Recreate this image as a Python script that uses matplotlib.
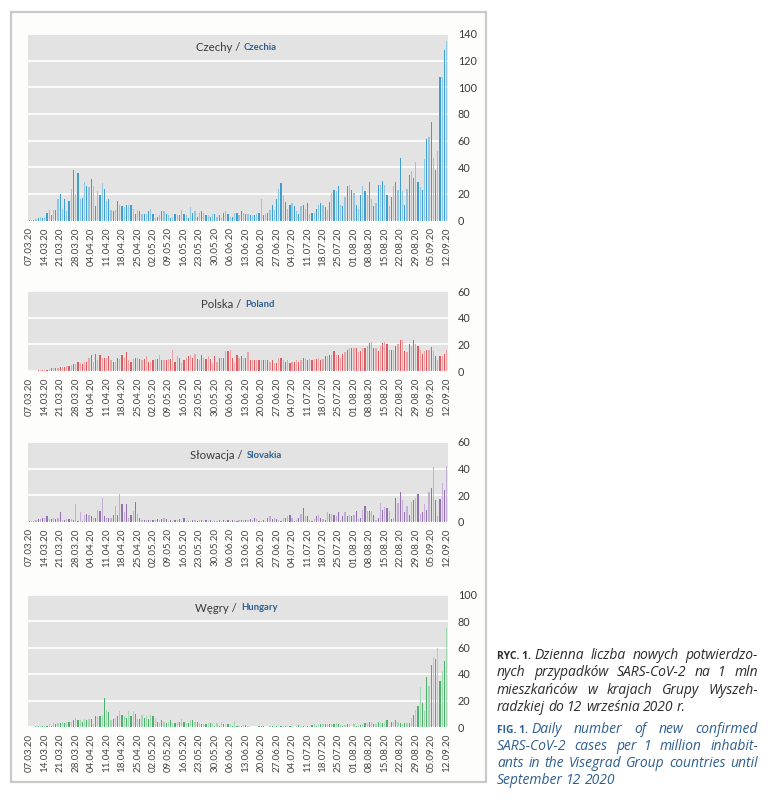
import matplotlib
matplotlib.use("Agg")
import matplotlib.pyplot as plt
from matplotlib.patches import Rectangle
import numpy as np
import pandas as pd

# daily new cases per 1 mln inhabitants, 07.03.20 - 12.09.20 (190 days)
czechia = [
    0.3, 0.5, 0.5, 1, 2, 3, 2,
    3, 6, 8, 4, 8, 8, 16,
    20, 9, 16, 7, 15, 24, 38,
    20, 36, 16, 17, 29, 26, 25,
    31, 26, 11, 22, 19, 28, 24,
    15, 16, 8, 7, 8, 15, 12,
    11, 10, 12, 12, 12, 9, 5,
    8, 7, 5, 5, 5, 7, 9,
    5, 2, 3, 4, 7, 7, 5,
    4, 2, 3, 5, 4, 4, 8,
    5, 4, 2, 10, 6, 7, 3,
    6, 7, 6, 4, 4, 3, 5,
    5, 3, 4, 2, 6, 7, 5,
    3, 3, 6, 6, 4, 7, 6,
    5, 5, 4, 4, 4, 5, 6,
    16, 4, 5, 6, 8, 12, 8,
    16, 24, 28, 19, 14, 9, 12,
    13, 11, 7, 5, 11, 12, 9,
    13, 5, 6, 6, 9, 12, 13,
    12, 10, 8, 14, 21, 23, 22,
    26, 12, 11, 18, 26, 27, 23,
    21, 12, 9, 19, 26, 22, 19,
    29, 16, 11, 13, 27, 27, 30,
    27, 19, 11, 18, 26, 29, 23,
    47, 22, 12, 24, 34, 37, 32,
    44, 29, 25, 23, 46, 61, 63,
    74, 47, 38, 52, 108, 108, 128,
    135,
]
poland = [
    0, 0, 0.2, 0.3, 0.5, 0.5, 0.7,
    1, 1, 1.5, 2, 2, 2, 2.5,
    3, 3, 3, 4, 4, 4.5, 5,
    5, 7, 6, 5, 7, 7, 10,
    12, 7, 13, 8, 12, 10, 10,
    10, 11, 8, 7, 7, 10, 9,
    12, 10, 14, 8, 7, 9, 10,
    10, 9, 8, 9, 11, 7, 7,
    8, 9, 9, 12, 8, 8, 8,
    9, 9, 16, 7, 11, 10, 6,
    8, 10, 11, 12, 10, 13, 9,
    8, 12, 10, 9, 11, 9, 6,
    11, 7, 10, 10, 10, 15, 15,
    16, 10, 6, 12, 10, 11, 10,
    10, 14, 8, 8, 8, 8, 8,
    8, 8, 8, 8, 7, 8, 6,
    6, 10, 10, 8, 7, 8, 6,
    7, 7, 8, 7, 8, 10, 9,
    8, 9, 8, 9, 9, 10, 8,
    9, 11, 11, 12, 12, 15, 12,
    12, 10, 13, 14, 16, 17, 17,
    17, 17, 14, 15, 17, 17, 19,
    21, 22, 17, 17, 15, 19, 21,
    22, 20, 16, 16, 16, 19, 20,
    23, 23, 15, 14, 20, 19, 23,
    20, 19, 16, 13, 15, 16, 16,
    18, 15, 11, 8, 11, 11, 13,
    16,
]
slovakia = [
    0.3, 0.5, 0.5, 1, 2, 2, 3,
    3, 4, 2, 2, 3, 2, 3,
    7, 1, 1, 2, 2, 2, 1,
    13, 0.5, 7, 0.5, 5, 6, 5,
    4, 3, 3, 9, 8, 18, 4,
    3, 3, 3, 5, 12, 5, 21,
    13, 7, 13, 3, 5, 8, 15,
    6, 3, 1, 1, 1, 1, 1.5,
    1, 1, 2, 1, 2, 3, 2,
    0.5, 1, 0.5, 1.5, 1, 2, 0.5,
    3, 0.5, 0.5, 0.5, 1, 1, 0.5,
    1, 1, 0.5, 1, 0.5, 1, 0.5,
    0.3, 0.5, 1, 0.5, 1, 0.5, 1,
    0.5, 1, 1, 0.5, 1, 1.5, 1,
    1, 1, 2, 1, 3, 2, 0.5,
    0.5, 1, 0.5, 3, 4, 2, 3,
    2, 1, 0.5, 3, 3, 4, 5,
    3, 0.5, 1, 3, 6, 10, 4,
    4, 1, 0.5, 2, 4, 5, 3,
    2, 1, 7, 6, 6, 5, 4,
    7, 1, 4, 7, 4, 5, 4,
    5, 8, 2, 3, 9, 12, 8,
    8, 8, 5, 1, 3, 14, 9,
    11, 10, 8, 2, 3, 18, 14,
    22, 16, 7, 12, 5, 15, 16,
    18, 21, 6, 7, 13, 9, 22,
    25, 41, 16, 4, 17, 29, 24,
    42,
]
hungary = [
    0.2, 0.2, 0.3, 0.5, 0.5, 1, 0.5,
    1, 1, 2, 1, 3, 2, 3,
    3, 4, 3, 4, 4, 4, 5,
    7, 5, 5, 4, 6, 5, 6,
    6, 2, 8, 8, 8, 9, 22,
    13, 11, 5, 6, 7, 8, 12,
    9, 8, 7, 12, 8, 12, 10,
    6, 6, 9, 7, 8, 6, 9,
    8, 6, 4, 3, 5, 4, 3,
    4, 5, 3, 3, 4, 4, 6,
    4, 3, 3, 5, 5, 4, 4,
    3, 2, 2, 2, 3, 3, 3,
    1, 3, 1, 4, 2, 1, 2,
    2, 0.5, 4.5, 0.5, 1, 1, 1.5,
    1.5, 1, 0.2, 0.2, 0.2, 0.3, 0.5,
    0.5, 0.5, 0.3, 0.2, 1, 0.5, 1,
    1, 0.5, 0.8, 1, 0.5, 0.5, 1,
    1, 0.3, 1, 1.5, 1, 0.5, 1,
    1, 0.5, 1.5, 2, 0.5, 1.5, 2,
    2, 2, 2, 2, 2, 2, 3,
    2, 1.5, 1, 1.5, 2, 2, 0.3,
    2, 1, 1, 1.5, 2, 3, 3,
    4, 4, 2, 2, 4, 4, 3,
    4, 5, 0.5, 4, 4, 5, 4,
    3, 2, 3, 3, 3, 7, 9,
    13, 16, 30, 18, 12, 38, 31,
    47, 53, 51, 60, 35, 42, 50,
    75,
]

dates = [d.strftime("%d.%m.%y") for d in pd.date_range("2020-03-07", "2020-09-12", freq="D")]

PANELS = [
    # data, polish name, english name, ymax, colours, top px, bottom px, split px
    (czechia, "Czechy /", "Czechia", 140, ("#3d9fd0", "#93c6e2"), 34, 220.5, 240),
    (poland, "Polska /", "Poland", 60, ("#dc5c62", "#eba3a6"), 291, 371, 241),
    (slovakia, "Słowacja /", "Slovakia", 60, ("#9272ae", "#c4add6"), 442, 521.5, 243),
    (hungary, "Węgry /", "Hungary", 100, ("#4caf6c", "#a2d8b1"), 594.5, 727, 237),
]

W, H = 782, 800
PLOT_L, PLOT_R = 28, 448
BG = "#e3e3e3"
INK = "#3a3a3a"
CAP_BLUE = "#2e5f8f"
plt.rcParams["font.family"] = ["Lato", "DejaVu Sans"]

fig = plt.figure(figsize=(W / 100, H / 100), dpi=100)
fig.patch.set_facecolor("white")
fig.patches.append(Rectangle((11 / W, 1 - 782 / H), 475 / W, 770 / H,
                             transform=fig.transFigure, facecolor="#fdfdfc",
                             edgecolor="#c9c9c9", lw=1.6, zorder=-10))

for data, pl_name, en_name, ymax, (dark, light), top, bot, split in PANELS:
    ax = fig.add_axes([PLOT_L / W, 1 - bot / H, (PLOT_R - PLOT_L) / W, (bot - top) / H])
    x = np.arange(len(data))
    cols = [dark if i % 2 == 0 else light for i in x]
    ax.bar(x, data, width=0.55, color=cols, zorder=3)
    ax.set_facecolor(BG)
    ax.set_xlim(-0.6, len(data) - 0.4)
    ax.set_ylim(0, ymax)
    ax.set_yticks(np.arange(0, ymax + 1, 20))
    ax.grid(axis="y", color="white", lw=1.2, zorder=1)
    ax.set_axisbelow(True)
    for s in ax.spines.values():
        s.set_visible(False)
    ax.yaxis.tick_right()
    ax.tick_params(axis="y", length=0, pad=7, labelsize=7.8, labelcolor=INK)
    ax.set_xticks(x[::7])
    ax.set_xticklabels(dates[::7], rotation=90, fontsize=7, color="#444444")
    ax.tick_params(axis="x", length=0, pad=5)
    hpx = bot - top
    ty = 1 - 13.5 / hpx
    sx = (split - PLOT_L) / (PLOT_R - PLOT_L)
    ax.text(sx, ty, pl_name, transform=ax.transAxes, ha="right", va="center",
            fontsize=8.2, color=INK)
    ax.text(sx + 4 / (PLOT_R - PLOT_L), ty, en_name, transform=ax.transAxes,
            ha="left", va="center", fontsize=6.8, color=CAP_BLUE, fontweight="bold")

# caption, justified line by line
renderer = fig.canvas.get_renderer()


def put_line(words, y, color, justify, x0=497, x1=758, prefix=None):
    cur = x0
    if prefix is not None:
        t = fig.text(cur / W, 1 - y / H, prefix, fontsize=7.4, color=color,
                     fontweight="bold", va="baseline", family=["Open Sans"])
        cur += t.get_window_extent(renderer).width + 3
    texts = [fig.text(0, 1 - y / H, w, fontsize=10, style="italic", color=color,
                      va="baseline", family=["Open Sans", "DejaVu Sans"]) for w in words]
    widths = [t.get_window_extent(renderer).width for t in texts]
    space = 3.2
    if justify and len(words) > 1:
        space = max(1.5, (x1 - cur - sum(widths)) / (len(words) - 1))
    for t, w in zip(texts, widths):
        t.set_x(cur / W)
        cur += w + space


pl_lines = ["Dzienna liczba nowych potwierdzo-",
            "nych przypadków SARS-CoV-2 na 1 mln",
            "mieszkańców w krajach Grupy Wyszeh-",
            "radzkiej do 12 września 2020 r."]
en_lines = ["Daily number of new confirmed",
            "SARS-CoV-2 cases per 1 million inhabit-",
            "ants in the Visegrad Group countries until",
            "September 12 2020"]
pl_y = [659, 676, 694, 711]
en_y = [733, 750, 767, 784]
for i, (line, y) in enumerate(zip(pl_lines, pl_y)):
    put_line(line.split(), y, "#2b2b2b", i < 3, prefix="RYC. 1." if i == 0 else None)
for i, (line, y) in enumerate(zip(en_lines, en_y)):
    put_line(line.split(), y, CAP_BLUE, i < 3, prefix="FIG. 1." if i == 0 else None)

fig.savefig("out.png", dpi=100, facecolor="white")
